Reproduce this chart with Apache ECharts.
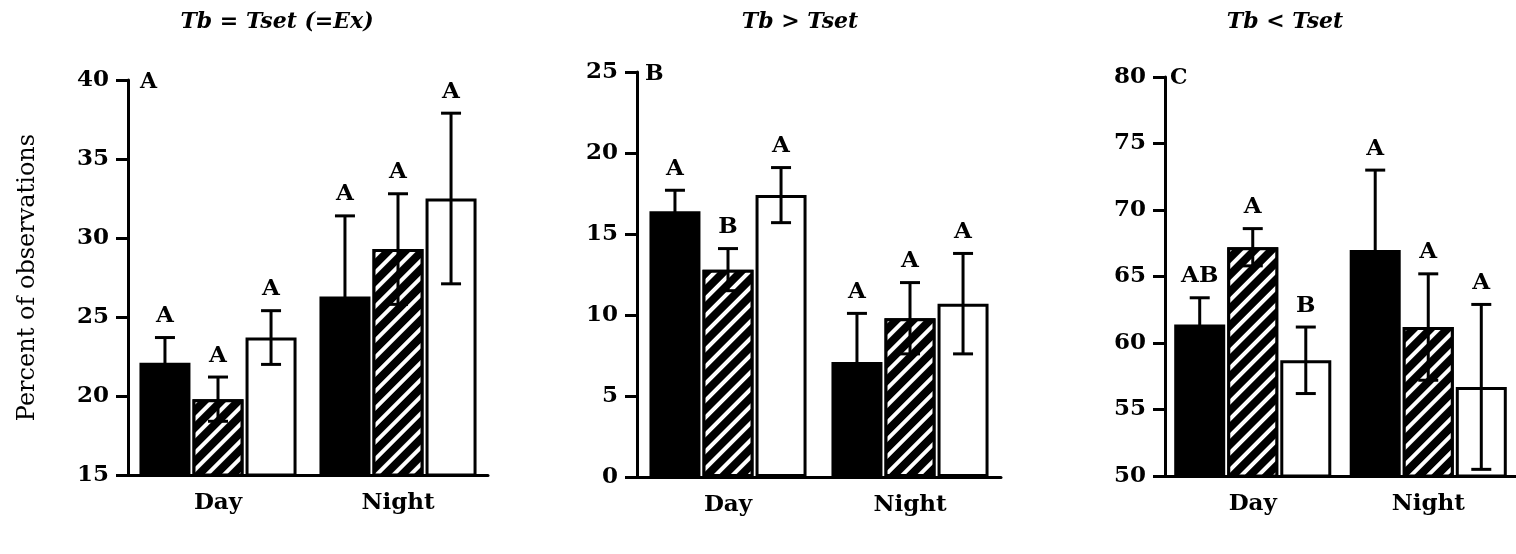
<!DOCTYPE html>
<html>
<head>
<meta charset="utf-8">
<script src="https://cdn.jsdelivr.net/npm/echarts@6/dist/echarts.min.js"></script>
<style>
html, body { margin: 0; padding: 0; background: #fff; }
#chart { width: 1516px; height: 554px; }
</style>
</head>
<body>
<div id="chart"></div>
<script>
// categories and panel labels
var categories = ['Day', 'Night'];
var panelTitles = ['Tb = Tset (=Ex)', 'Tb > Tset', 'Tb < Tset'];
var panelTags = ['A', 'B', 'C'];
var yMin = [15, 0, 50];
var yMax = [40, 25, 80];

// rows: solid, hatched, open bars; columns: Day, Night
var eqMeans = [[22.1, 26.3], [19.8, 29.3], [23.7, 32.5]];
var eqSe = [[1.6, 5.1], [1.4, 3.5], [1.7, 5.4]];
var eqLetters = [['A', 'A'], ['A', 'A'], ['A', 'A']];

var hiMeans = [[16.4, 7.1], [12.8, 9.8], [17.4, 10.7]];
var hiSe = [[1.3, 3.0], [1.3, 2.2], [1.7, 3.1]];
var hiLetters = [['A', 'A'], ['B', 'A'], ['A', 'A']];

var loMeans = [[61.4, 67.0], [67.2, 61.2], [58.7, 56.7]];
var loSe = [[2.0, 6.0], [1.4, 4.0], [2.5, 6.2]];
var loLetters = [['AB', 'A'], ['A', 'A'], ['B', 'A']];

var FONT = '"DejaVu Serif", "Liberation Serif", serif';
var BAR_W = 51, BAR_GAP = 0.04, CAP = 20;
var STEP = BAR_W * (1 + BAR_GAP);

var grids = [
    {left: 128, top: 80, width: 360, height: 395},
    {left: 637, top: 72, width: 364, height: 405},
    {left: 1165, top: 77, width: 352, height: 399}
];
var titlePos = [[277, 22], [800, 22], [1285, 22]];
var tagPos = [[140, 82], [645, 74], [1170, 78]];

var fills = [
    {color: '#000', borderColor: '#000', borderWidth: 0},
    {color: '#000', borderColor: '#000', borderWidth: 3,
        decal: {symbol: 'rect', symbolSize: 1, color: '#fff', dashArrayX: [1, 0], dashArrayY: [4, 8], rotation: -Math.PI / 4}},
    {color: '#fff', borderColor: '#000', borderWidth: 3}
];

var panels = [
    {means: eqMeans, se: eqSe, letters: eqLetters},
    {means: hiMeans, se: hiSe, letters: hiLetters},
    {means: loMeans, se: loSe, letters: loLetters}
];

function errRenderer(letters) {
    return function (params, api) {
        var cat = api.value(0), m = api.value(1), k = api.value(2), s = api.value(3);
        var hi = api.coord([cat, m + s]);
        var lo = api.coord([cat, m - s]);
        var x = hi[0] + (k - 1) * STEP;
        var half = CAP / 2;
        var ls = {stroke: '#000', lineWidth: 3};
        return {
            type: 'group',
            children: [
                {type: 'line', shape: {x1: x, y1: lo[1], x2: x, y2: hi[1]}, style: ls},
                {type: 'line', shape: {x1: x - half, y1: hi[1], x2: x + half, y2: hi[1]}, style: ls},
                {type: 'line', shape: {x1: x - half, y1: lo[1], x2: x + half, y2: lo[1]}, style: ls},
                {type: 'text', x: x, y: hi[1] - 10, style: {
                    text: letters[k][cat], textAlign: 'center', textVerticalAlign: 'bottom',
                    font: 'bold 23px ' + FONT, fill: '#000'}}
            ]
        };
    };
}

var xAxes = [], yAxes = [], series = [], graphics = [];
panels.forEach(function (p, i) {
    xAxes.push({
        type: 'category', gridIndex: i, data: categories,
        axisLine: {onZero: false, lineStyle: {color: '#000', width: 3}},
        axisTick: {alignWithLabel: true, length: 12, lineStyle: {color: '#000', width: 3}},
        axisLabel: {color: '#000', fontFamily: FONT, fontWeight: 'bold', fontSize: 23, margin: 17},
        splitLine: {show: false}
    });
    yAxes.push({
        type: 'value', gridIndex: i, min: yMin[i], max: yMax[i], interval: 5,
        name: i === 0 ? 'Percent of observations' : '',
        nameLocation: 'middle', nameGap: 88,
        nameTextStyle: {color: '#000', fontFamily: FONT, fontSize: 24},
        axisLine: {show: true, lineStyle: {color: '#000', width: 3}},
        axisTick: {show: true, length: 12, lineStyle: {color: '#000', width: 3}},
        axisLabel: {color: '#000', fontFamily: FONT, fontWeight: 'bold', fontSize: 23, margin: 19},
        splitLine: {show: false}
    });
    p.means.forEach(function (vals, k) {
        series.push({
            type: 'bar', xAxisIndex: i, yAxisIndex: i,
            barWidth: BAR_W, barGap: (BAR_GAP * 100) + '%',
            itemStyle: fills[k], data: vals, silent: true
        });
    });
    var errData = [];
    p.means.forEach(function (vals, k) {
        vals.forEach(function (v, c) {
            errData.push([c, v, k, p.se[k][c]]);
        });
    });
    series.push({
        type: 'custom', xAxisIndex: i, yAxisIndex: i, z: 5,
        renderItem: errRenderer(p.letters),
        encode: {x: 0, y: 1},
        data: errData, silent: true
    });
    graphics.push({type: 'text', x: titlePos[i][0], y: titlePos[i][1], style: {
        text: panelTitles[i], textAlign: 'center', textVerticalAlign: 'middle',
        font: 'italic bold 22px ' + FONT, fill: '#000'}});
    graphics.push({type: 'text', x: tagPos[i][0], y: tagPos[i][1], style: {
        text: panelTags[i], textAlign: 'left', textVerticalAlign: 'middle',
        font: 'bold 22px ' + FONT, fill: '#000'}});
});

var chart = echarts.init(document.getElementById('chart'));
chart.setOption({
    animation: false,
    backgroundColor: '#fff',
    grid: grids,
    xAxis: xAxes,
    yAxis: yAxes,
    series: series,
    graphic: graphics
});
</script>
</body>
</html>
